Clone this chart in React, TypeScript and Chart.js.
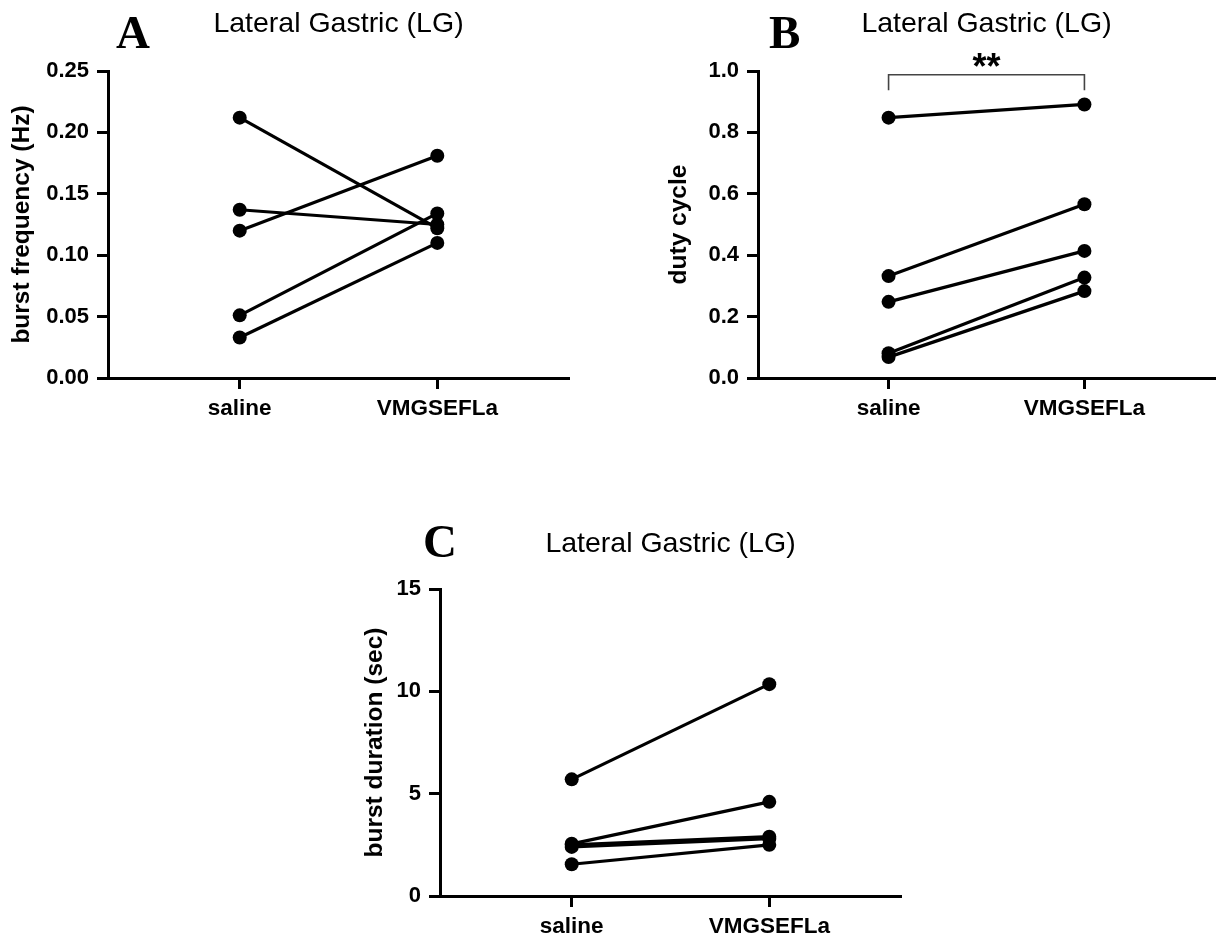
import React, { useEffect, useRef } from "react";
import { Chart, registerables } from "chart.js";

Chart.register(...registerables);

// ---------- data ----------
const categories = ["saline", "VMGSEFLa"];
const categoryPositions = [1, 2];

// Panel A: burst frequency (Hz)
const freqSaline = [0.212, 0.137, 0.12, 0.051, 0.033];
const freqVMG = [0.122, 0.125, 0.181, 0.134, 0.11];
const freqTicks = [0, 0.05, 0.1, 0.15, 0.2, 0.25];

// Panel B: duty cycle
const dutySaline = [0.848, 0.332, 0.248, 0.081, 0.068];
const dutyVMG = [0.891, 0.566, 0.414, 0.327, 0.283];
const dutyTicks = [0, 0.2, 0.4, 0.6, 0.8, 1.0];
const dutySignificance = "**";
const dutyBracketValues = [0.988, 0.937]; // bracket top, leg bottom

// Panel C: burst duration (sec)
const durSaline = [5.7, 2.55, 2.5, 2.4, 1.55];
const durVMG = [10.35, 4.6, 2.9, 2.8, 2.5];
const durTicks = [0, 5, 10, 15];

const panelTitle = "Lateral Gastric (LG)";

// ---------- layout ----------
type PanelSpec = {
  letter: string;
  yTitle: string;
  saline: number[];
  vmg: number[];
  ticks: number[];
  decimals: number;
  left: number;
  top: number;
  width: number;
  height: number;
  areaLeft: number;
  areaTop: number;
  areaRight: number;
  areaBottom: number;
  yTitleCenter: number;
  letterX: number;
  letterBaseline: number;
  titleBaseline: number;
  sig?: { text: string; values: number[] };
};

const FONT = "Arial, 'Liberation Sans', Helvetica, sans-serif";
const SERIF = "'Times New Roman', 'Liberation Serif', serif";

const panels: PanelSpec[] = [
  {
    letter: "A",
    yTitle: "burst frequency (Hz)",
    saline: freqSaline,
    vmg: freqVMG,
    ticks: freqTicks,
    decimals: 2,
    left: 0,
    top: 0,
    width: 600,
    height: 440,
    areaLeft: 108,
    areaTop: 71,
    areaRight: 569,
    areaBottom: 378,
    yTitleCenter: 22.5,
    letterX: 116,
    letterBaseline: 47.5,
    titleBaseline: 31.5,
  },
  {
    letter: "B",
    yTitle: "duty cycle",
    saline: dutySaline,
    vmg: dutyVMG,
    ticks: dutyTicks,
    decimals: 1,
    left: 640,
    top: 0,
    width: 582,
    height: 440,
    areaLeft: 118,
    areaTop: 71,
    areaRight: 579,
    areaBottom: 378,
    yTitleCenter: 39,
    letterX: 129,
    letterBaseline: 47.5,
    titleBaseline: 31.5,
    sig: { text: dutySignificance, values: dutyBracketValues },
  },
  {
    letter: "C",
    yTitle: "burst duration (sec)",
    saline: durSaline,
    vmg: durVMG,
    ticks: durTicks,
    decimals: 0,
    left: 330,
    top: 500,
    width: 600,
    height: 439,
    areaLeft: 110,
    areaTop: 89,
    areaRight: 571,
    areaBottom: 396,
    yTitleCenter: 45,
    letterX: 93,
    letterBaseline: 57,
    titleBaseline: 51.5,
  },
];

function PanelChart({ spec }: { spec: PanelSpec }) {
  const ref = useRef<HTMLCanvasElement | null>(null);

  useEffect(() => {
    const canvas = ref.current;
    if (!canvas) return;

    const datasets = spec.saline.map((s, i) => ({
      data: [
        { x: categoryPositions[0], y: s },
        { x: categoryPositions[1], y: spec.vmg[i] },
      ],
      showLine: true,
      borderColor: "#000",
      backgroundColor: "#000",
      pointBackgroundColor: "#000",
      pointBorderColor: "#000",
      borderWidth: 3.2,
      pointRadius: 7,
      pointHoverRadius: 7,
      pointBorderWidth: 0,
      tension: 0,
      fill: false,
      clip: false as any,
    }));

    const decor = {
      id: "decor",
      afterDraw(chart: any) {
        const { ctx, chartArea } = chart;
        ctx.save();
        ctx.fillStyle = "#000";
        // panel letter
        ctx.font = `bold 47px ${SERIF}`;
        ctx.textAlign = "left";
        ctx.textBaseline = "alphabetic";
        ctx.fillText(spec.letter, spec.letterX, spec.letterBaseline);
        // title
        ctx.font = `normal 28.5px ${FONT}`;
        ctx.textAlign = "center";
        ctx.fillText(panelTitle, (chartArea.left + chartArea.right) / 2, spec.titleBaseline);
        // significance bracket
        if (spec.sig) {
          const xs = chart.scales.x;
          const ys = chart.scales.y;
          const x1 = xs.getPixelForValue(categoryPositions[0]);
          const x2 = xs.getPixelForValue(categoryPositions[1]);
          const yTop = ys.getPixelForValue(spec.sig.values[0]);
          const yLeg = ys.getPixelForValue(spec.sig.values[1]);
          ctx.strokeStyle = "#444";
          ctx.lineWidth = 1.6;
          ctx.beginPath();
          ctx.moveTo(x1, yLeg);
          ctx.lineTo(x1, yTop);
          ctx.lineTo(x2, yTop);
          ctx.lineTo(x2, yLeg);
          ctx.stroke();
          ctx.font = `bold 36px ${FONT}`;
          ctx.textAlign = "center";
          ctx.fillText(spec.sig.text, (x1 + x2) / 2, yTop + 4);
        }
        ctx.restore();
      },
    };

    const yTitleFont = 24.5;
    const chart = new Chart(canvas, {
      type: "scatter",
      data: { datasets: datasets as any },
      options: {
        responsive: false,
        maintainAspectRatio: false,
        animation: false,
        devicePixelRatio: 1,
        events: [],
        layout: {
          padding: {
            left: 0,
            top: spec.areaTop,
            right: spec.width - spec.areaRight,
            bottom: 0,
          },
        },
        plugins: {
          legend: { display: false },
          tooltip: { enabled: false },
          title: { display: false },
        },
        scales: {
          x: {
            type: "linear",
            min: 1 / 3,
            max: 2 + 2 / 3,
            grid: {
              drawOnChartArea: false,
              drawTicks: true,
              tickLength: 11,
              tickWidth: 3,
              tickColor: "#000",
            },
            border: { display: true, color: "#000", width: 3 },
            afterBuildTicks: (s: any) => {
              s.ticks = categoryPositions.map((v) => ({ value: v }));
            },
            afterFit: (s: any) => {
              s.height = spec.height - spec.areaBottom;
            },
            ticks: {
              autoSkip: false,
              maxRotation: 0,
              color: "#000",
              padding: 6,
              font: { family: FONT, size: 22.5, weight: "bold" },
              callback: (v: any) => {
                const idx = categoryPositions.indexOf(Number(v));
                return idx >= 0 ? categories[idx] : "";
              },
            },
          },
          y: {
            type: "linear",
            min: spec.ticks[0],
            max: spec.ticks[spec.ticks.length - 1],
            grid: {
              drawOnChartArea: false,
              drawTicks: true,
              tickLength: 11,
              tickWidth: 3,
              tickColor: "#000",
            },
            border: { display: true, color: "#000", width: 3 },
            afterBuildTicks: (s: any) => {
              s.ticks = spec.ticks.map((v) => ({ value: v }));
            },
            afterFit: (s: any) => {
              s.width = spec.areaLeft;
            },
            ticks: {
              color: "#000",
              padding: 8,
              font: { family: FONT, size: 22, weight: "bold" },
              callback: (v: any) => Number(v).toFixed(spec.decimals),
            },
            title: {
              display: true,
              text: spec.yTitle,
              color: "#000",
              font: { family: FONT, size: yTitleFont, weight: "bold", lineHeight: 1.2 },
              padding: { top: spec.yTitleCenter - (yTitleFont * 1.2) / 2, bottom: 0 },
            },
          },
        },
      },
      plugins: [decor as any],
    });

    return () => chart.destroy();
  }, [spec]);

  return (
    <canvas
      ref={ref}
      width={spec.width}
      height={spec.height}
      style={{
        position: "absolute",
        left: spec.left,
        top: spec.top,
        width: spec.width,
        height: spec.height,
      }}
    />
  );
}

export default function App() {
  return (
    <div style={{ position: "absolute", left: 0, top: 0, width: 1222, height: 939, background: "#fff" }}>
      {panels.map((p) => (
        <PanelChart key={p.letter} spec={p} />
      ))}
    </div>
  );
}
